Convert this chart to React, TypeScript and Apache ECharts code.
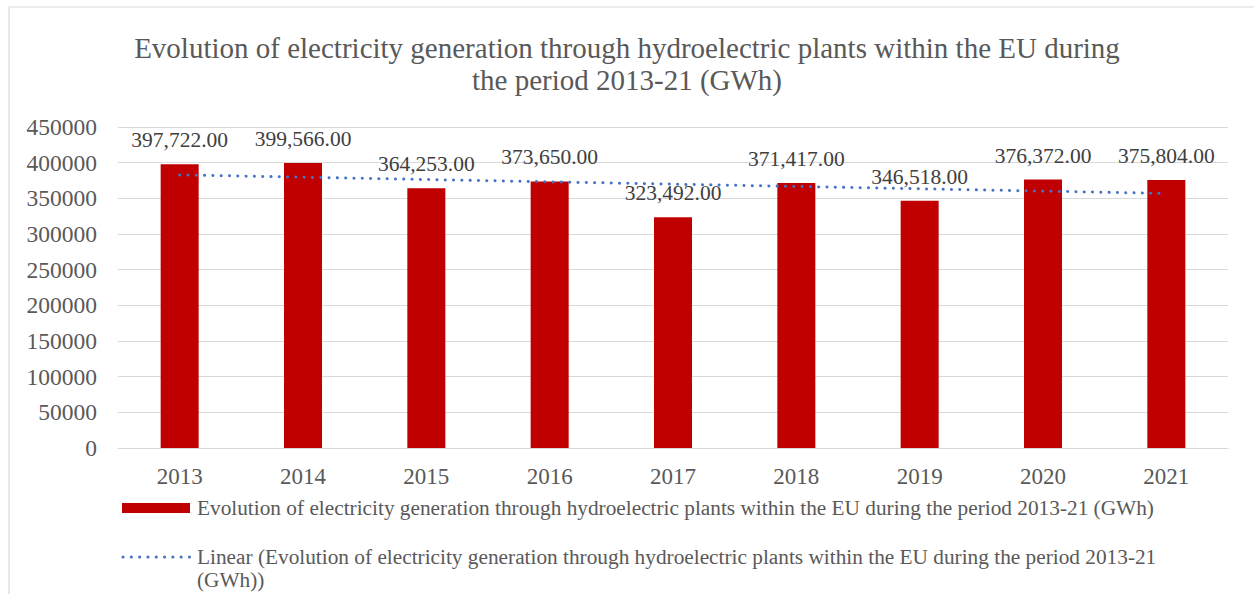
import React, { useEffect, useRef } from "react";
import * as echarts from "echarts";

// Hydroelectric generation in the EU, GWh per year
const years = ["2013", "2014", "2015", "2016", "2017", "2018", "2019", "2020", "2021"];
const generationGWh = [397722, 399566, 364253, 373650, 323492, 371417, 346518, 376372, 375804];
const yTicks = { min: 0, max: 450000, interval: 50000 };

const seriesName =
  "Evolution of electricity generation through hydroelectric plants within the EU during the period 2013-21 (GWh)";
const titleText =
  "Evolution of electricity generation through hydroelectric plants within the EU during\nthe period 2013-21 (GWh)";
const trendLegendText =
  "Linear (Evolution of electricity generation through hydroelectric plants within the EU during the period 2013-21\n(GWh))";

const FONT = '"Liberation Serif", "Times New Roman", serif';
const BAR_COLOR = "#C00000";
const TREND_COLOR = "#4472C4";
const TEXT_COLOR = "#595959";
const GRID_COLOR = "#D9D9D9";

// Ordinary least-squares line through the yearly values (Excel "Linear" trendline)
function linearTrend(values: number[]): number[] {
  const n = values.length;
  const xs = values.map((_, i) => i + 1);
  const mx = xs.reduce((a, b) => a + b, 0) / n;
  const my = values.reduce((a, b) => a + b, 0) / n;
  let sxy = 0;
  let sxx = 0;
  xs.forEach((x, i) => {
    sxy += (x - mx) * (values[i] - my);
    sxx += (x - mx) * (x - mx);
  });
  const slope = sxy / sxx;
  return xs.map((x) => my + slope * (x - mx));
}

const fmt = (v: number) =>
  v.toLocaleString("en-US", { minimumFractionDigits: 2, maximumFractionDigits: 2 });

export default function App() {
  const ref = useRef<HTMLDivElement>(null);

  useEffect(() => {
    if (!ref.current) return;
    const chart = echarts.init(ref.current, null, { renderer: "svg" });
    const trend = linearTrend(generationGWh);

    chart.setOption({
      animation: false,
      backgroundColor: "#FFFFFF",
      textStyle: { fontFamily: FONT },
      title: {
        text: titleText,
        left: "center",
        top: 27,
        textStyle: {
          fontFamily: FONT,
          fontSize: 29,
          fontWeight: "normal",
          color: TEXT_COLOR,
          lineHeight: 32,
        },
      },
      grid: { left: 118, right: 26, top: 127, bottom: 146, containLabel: false },
      xAxis: {
        type: "category",
        data: years,
        axisLine: { lineStyle: { color: GRID_COLOR, width: 1 } },
        axisTick: { show: false },
        axisLabel: { color: TEXT_COLOR, fontSize: 23, fontFamily: FONT, margin: 17 },
      },
      yAxis: {
        type: "value",
        min: yTicks.min,
        max: yTicks.max,
        interval: yTicks.interval,
        axisLine: { show: false },
        axisTick: { show: false },
        splitLine: { lineStyle: { color: GRID_COLOR, width: 1 } },
        axisLabel: {
          color: TEXT_COLOR,
          fontSize: 23.5,
          fontFamily: FONT,
          margin: 21,
          formatter: (v: number) => String(v),
        },
      },
      series: [
        {
          name: seriesName,
          type: "bar",
          data: generationGWh,
          barWidth: 38,
          itemStyle: { color: BAR_COLOR },
          label: {
            show: true,
            position: "top",
            distance: 13,
            color: "#404040",
            fontSize: 21.5,
            fontFamily: FONT,
            formatter: (p: any) => fmt(p.value),
          },
          z: 2,
        },
        {
          name: "Linear (" + seriesName + ")",
          type: "line",
          data: trend,
          symbol: "none",
          silent: true,
          lineStyle: { color: TREND_COLOR, width: 3, type: [0.1, 8.2], cap: "round" },
          z: 3,
        },
      ],
      graphic: [
        {
          type: "rect",
          silent: true,
          shape: { x: 9, y: 7, width: 1400, height: 800 },
          style: { fill: "none", stroke: GRID_COLOR, lineWidth: 1.2 },
        },
        {
          type: "rect",
          shape: { x: 122, y: 503, width: 68, height: 10 },
          style: { fill: BAR_COLOR },
        },
        {
          type: "text",
          x: 197,
          y: 508,
          style: {
            text: seriesName,
            font: `21.3px ${FONT}`,
            fill: TEXT_COLOR,
            verticalAlign: "middle",
          },
        },
        {
          type: "line",
          shape: { x1: 123, y1: 557, x2: 190, y2: 557 },
          style: { stroke: TREND_COLOR, lineWidth: 3, lineDash: [0.1, 8.2], lineCap: "round" },
        },
        {
          type: "text",
          x: 197,
          y: 545,
          style: {
            text: trendLegendText,
            font: `21.3px ${FONT}`,
            fill: TEXT_COLOR,
            verticalAlign: "top",
            lineHeight: 23,
          },
        },
      ],
    });

    return () => chart.dispose();
  }, []);

  return (
    <div
      ref={ref}
      style={{ position: "absolute", left: 0, top: 0, width: 1254, height: 594 }}
    />
  );
}
